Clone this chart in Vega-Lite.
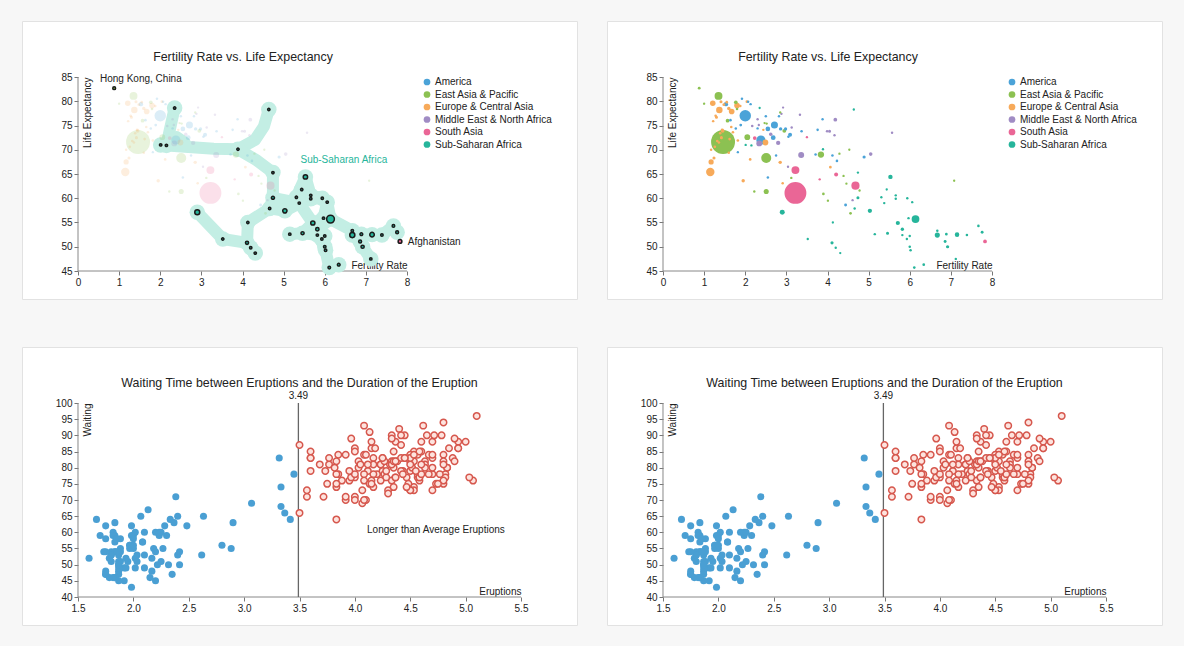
{
"$schema":"https://vega.github.io/schema/vega-lite/v6.json",
"background":"#f7f7f7",
"padding":{"left":21,"top":20,"right":22,"bottom":20},
"datasets":{
"gap":[
{"fertility":1.53,"life":79.4,"pop":31,"region":"America"},
{"fertility":1.92,"life":80.5,"pop":3,"region":"America"},
{"fertility":2.07,"life":79.9,"pop":2,"region":"America"},
{"fertility":2.13,"life":79.4,"pop":2,"region":"America"},
{"fertility":2.0,"life":77.0,"pop":282,"region":"America"},
{"fertility":1.64,"life":76.1,"pop":4,"region":"America"},
{"fertility":1.89,"life":75.1,"pop":6,"region":"America"},
{"fertility":1.77,"life":74.4,"pop":3,"region":"America"},
{"fertility":2.3,"life":74.4,"pop":2,"region":"America"},
{"fertility":2.38,"life":72.0,"pop":174,"region":"America"},
{"fertility":2.71,"life":75.1,"pop":99,"region":"America"},
{"fertility":2.55,"life":74.3,"pop":37,"region":"America"},
{"fertility":2.86,"life":74.3,"pop":15,"region":"America"},
{"fertility":2.98,"life":74.3,"pop":13,"region":"America"},
{"fertility":2.68,"life":72.5,"pop":40,"region":"America"},
{"fertility":3.09,"life":73.1,"pop":24,"region":"America"},
{"fertility":3.05,"life":72.7,"pop":3,"region":"America"},
{"fertility":1.82,"life":69.5,"pop":1,"region":"America"},
{"fertility":2.55,"life":64.3,"pop":3,"region":"America"},
{"fertility":2.75,"life":68.8,"pop":2,"region":"America"},
{"fertility":3.37,"life":73.8,"pop":3,"region":"America"},
{"fertility":3.76,"life":74.1,"pop":3,"region":"America"},
{"fertility":3.88,"life":76.3,"pop":2,"region":"America"},
{"fertility":3.71,"life":69.0,"pop":3,"region":"America"},
{"fertility":4.12,"life":68.8,"pop":3,"region":"America"},
{"fertility":4.23,"life":67.7,"pop":4,"region":"America"},
{"fertility":4.89,"life":68.5,"pop":11,"region":"America"},
{"fertility":4.44,"life":58.6,"pop":8,"region":"America"},
{"fertility":2.5,"life":76.9,"pop":3,"region":"America"},
{"fertility":2.82,"life":76.9,"pop":2,"region":"America"},
{"fertility":0.88,"life":82.7,"pop":7,"region":"East Asia & Pacific","country":"Hong Kong, China"},
{"fertility":1.35,"life":81.1,"pop":127,"region":"East Asia & Pacific"},
{"fertility":1.0,"life":79.5,"pop":1,"region":"East Asia & Pacific"},
{"fertility":1.77,"life":79.8,"pop":19,"region":"East Asia & Pacific"},
{"fertility":1.57,"life":76.0,"pop":20,"region":"East Asia & Pacific"},
{"fertility":1.46,"life":71.6,"pop":1263,"region":"East Asia & Pacific"},
{"fertility":2.05,"life":72.6,"pop":62,"region":"East Asia & Pacific"},
{"fertility":2.51,"life":68.3,"pop":211,"region":"East Asia & Pacific"},
{"fertility":2.51,"life":61.4,"pop":46,"region":"East Asia & Pacific"},
{"fertility":2.22,"life":61.4,"pop":2,"region":"East Asia & Pacific"},
{"fertility":3.12,"life":64.2,"pop":2,"region":"East Asia & Pacific"},
{"fertility":3.84,"life":69.0,"pop":77,"region":"East Asia & Pacific"},
{"fertility":3.9,"life":60.9,"pop":5,"region":"East Asia & Pacific"},
{"fertility":4.01,"life":59.5,"pop":1,"region":"East Asia & Pacific"},
{"fertility":4.29,"life":69.2,"pop":1,"region":"East Asia & Pacific"},
{"fertility":4.53,"life":70.0,"pop":1,"region":"East Asia & Pacific"},
{"fertility":4.39,"life":64.6,"pop":1,"region":"East Asia & Pacific"},
{"fertility":4.46,"life":63.0,"pop":1,"region":"East Asia & Pacific"},
{"fertility":4.78,"life":61.6,"pop":1,"region":"East Asia & Pacific"},
{"fertility":4.56,"life":56.9,"pop":5,"region":"East Asia & Pacific"},
{"fertility":7.08,"life":63.6,"pop":1,"region":"East Asia & Pacific"},
{"fertility":2.95,"life":73.9,"pop":22,"region":"East Asia & Pacific"},
{"fertility":2.47,"life":75.5,"pop":1,"region":"East Asia & Pacific"},
{"fertility":2.52,"life":75.4,"pop":1,"region":"East Asia & Pacific"},
{"fertility":2.85,"life":77.7,"pop":1,"region":"East Asia & Pacific"},
{"fertility":1.8,"life":78.4,"pop":4,"region":"East Asia & Pacific"},
{"fertility":1.21,"life":79.6,"pop":57,"region":"Europe & Central Asia"},
{"fertility":1.41,"life":79.9,"pop":10,"region":"Europe & Central Asia"},
{"fertility":1.37,"life":78.2,"pop":82,"region":"Europe & Central Asia"},
{"fertility":1.67,"life":77.9,"pop":59,"region":"Europe & Central Asia"},
{"fertility":1.8,"life":79.1,"pop":59,"region":"Europe & Central Asia"},
{"fertility":1.55,"life":79.8,"pop":5,"region":"Europe & Central Asia"},
{"fertility":2.04,"life":79.9,"pop":6,"region":"Europe & Central Asia"},
{"fertility":1.22,"life":75.9,"pop":2,"region":"Europe & Central Asia"},
{"fertility":1.44,"life":74.1,"pop":8,"region":"Europe & Central Asia"},
{"fertility":1.39,"life":73.4,"pop":4,"region":"Europe & Central Asia"},
{"fertility":1.42,"life":72.5,"pop":10,"region":"Europe & Central Asia"},
{"fertility":1.32,"life":71.8,"pop":5,"region":"Europe & Central Asia"},
{"fertility":1.36,"life":71.5,"pop":4,"region":"Europe & Central Asia"},
{"fertility":1.26,"life":70.6,"pop":5,"region":"Europe & Central Asia"},
{"fertility":1.17,"life":70.0,"pop":3,"region":"Europe & Central Asia"},
{"fertility":1.24,"life":68.3,"pop":10,"region":"Europe & Central Asia"},
{"fertility":1.17,"life":67.5,"pop":49,"region":"Europe & Central Asia"},
{"fertility":1.15,"life":65.4,"pop":146,"region":"Europe & Central Asia"},
{"fertility":1.6,"life":69.4,"pop":3,"region":"Europe & Central Asia"},
{"fertility":1.7,"life":73.6,"pop":4,"region":"Europe & Central Asia"},
{"fertility":1.62,"life":72.2,"pop":5,"region":"Europe & Central Asia"},
{"fertility":1.82,"life":71.9,"pop":4,"region":"Europe & Central Asia"},
{"fertility":2.12,"life":68.0,"pop":5,"region":"Europe & Central Asia"},
{"fertility":1.95,"life":63.6,"pop":15,"region":"Europe & Central Asia"},
{"fertility":2.49,"life":71.5,"pop":64,"region":"Europe & Central Asia"},
{"fertility":2.85,"life":67.4,"pop":15,"region":"Europe & Central Asia"},
{"fertility":2.91,"life":63.1,"pop":3,"region":"Europe & Central Asia"},
{"fertility":4.07,"life":66.4,"pop":6,"region":"Europe & Central Asia"},
{"fertility":2.44,"life":74.1,"pop":2,"region":"Europe & Central Asia"},
{"fertility":1.3,"life":76.7,"pop":10,"region":"Europe & Central Asia"},
{"fertility":1.45,"life":73.9,"pop":20,"region":"Europe & Central Asia"},
{"fertility":1.88,"life":79.0,"pop":3,"region":"Europe & Central Asia"},
{"fertility":1.6,"life":78.5,"pop":16,"region":"Europe & Central Asia"},
{"fertility":1.48,"life":79.3,"pop":8,"region":"Europe & Central Asia"},
{"fertility":1.66,"life":74.7,"pop":4,"region":"Europe & Central Asia"},
{"fertility":1.28,"life":77.0,"pop":4,"region":"Europe & Central Asia"},
{"fertility":2.92,"life":78.7,"pop":1,"region":"Middle East & North Africa"},
{"fertility":2.88,"life":77.4,"pop":2,"region":"Middle East & North Africa"},
{"fertility":3.33,"life":77.2,"pop":2,"region":"Middle East & North Africa"},
{"fertility":4.19,"life":76.2,"pop":20,"region":"Middle East & North Africa"},
{"fertility":2.3,"life":76.3,"pop":2,"region":"Middle East & North Africa"},
{"fertility":2.17,"life":74.9,"pop":4,"region":"Middle East & North Africa"},
{"fertility":2.34,"life":71.3,"pop":64,"region":"Middle East & North Africa"},
{"fertility":2.62,"life":73.2,"pop":16,"region":"Middle East & North Africa"},
{"fertility":2.8,"life":71.4,"pop":30,"region":"Middle East & North Africa"},
{"fertility":3.04,"life":66.5,"pop":1,"region":"Middle East & North Africa"},
{"fertility":3.36,"life":68.9,"pop":68,"region":"Middle East & North Africa"},
{"fertility":3.13,"life":74.6,"pop":2,"region":"Middle East & North Africa"},
{"fertility":4.05,"life":73.8,"pop":10,"region":"Middle East & North Africa"},
{"fertility":3.99,"life":73.8,"pop":3,"region":"Middle East & North Africa"},
{"fertility":4.17,"life":73.0,"pop":2,"region":"Middle East & North Africa"},
{"fertility":5.05,"life":69.1,"pop":18,"region":"Middle East & North Africa"},
{"fertility":5.57,"life":73.5,"pop":2,"region":"Middle East & North Africa"},
{"fertility":4.61,"life":59.6,"pop":1,"region":"Middle East & North Africa"},
{"fertility":2.33,"life":75.1,"pop":1,"region":"Middle East & North Africa"},
{"fertility":2.23,"life":72.4,"pop":19,"region":"South Asia"},
{"fertility":3.22,"life":65.8,"pop":129,"region":"South Asia"},
{"fertility":3.22,"life":61.1,"pop":1053,"region":"South Asia"},
{"fertility":3.5,"life":72.6,"pop":1,"region":"South Asia"},
{"fertility":3.81,"life":63.9,"pop":1,"region":"South Asia"},
{"fertility":4.21,"life":64.9,"pop":24,"region":"South Asia"},
{"fertility":4.68,"life":62.6,"pop":138,"region":"South Asia"},
{"fertility":7.83,"life":51.1,"pop":20,"region":"South Asia","country":"Afghanistan"},
{"fertility":2.35,"life":78.6,"pop":1,"region":"Sub-Saharan Africa"},
{"fertility":4.64,"life":78.3,"pop":1,"region":"Sub-Saharan Africa"},
{"fertility":2.01,"life":71.0,"pop":1,"region":"Sub-Saharan Africa"},
{"fertility":2.15,"life":70.9,"pop":1,"region":"Sub-Saharan Africa"},
{"fertility":3.89,"life":70.1,"pop":1,"region":"Sub-Saharan Africa"},
{"fertility":4.74,"life":65.3,"pop":1,"region":"Sub-Saharan Africa"},
{"fertility":5.53,"life":64.4,"pop":32,"region":"Sub-Saharan Africa"},
{"fertility":4.74,"life":60.1,"pop":10,"region":"Sub-Saharan Africa"},
{"fertility":5.31,"life":60.2,"pop":1,"region":"Sub-Saharan Africa"},
{"fertility":5.44,"life":61.8,"pop":1,"region":"Sub-Saharan Africa"},
{"fertility":5.66,"life":60.6,"pop":2,"region":"Sub-Saharan Africa"},
{"fertility":5.66,"life":59.9,"pop":2,"region":"Sub-Saharan Africa"},
{"fertility":5.38,"life":59.0,"pop":2,"region":"Sub-Saharan Africa"},
{"fertility":5.94,"life":60.0,"pop":2,"region":"Sub-Saharan Africa"},
{"fertility":6.06,"life":59.2,"pop":1,"region":"Sub-Saharan Africa"},
{"fertility":4.66,"life":57.9,"pop":2,"region":"Sub-Saharan Africa"},
{"fertility":5.03,"life":57.4,"pop":30,"region":"Sub-Saharan Africa"},
{"fertility":2.9,"life":57.1,"pop":44,"region":"Sub-Saharan Africa"},
{"fertility":6.14,"life":55.7,"pop":123,"region":"Sub-Saharan Africa"},
{"fertility":5.97,"life":55.9,"pop":2,"region":"Sub-Saharan Africa"},
{"fertility":5.71,"life":54.9,"pop":28,"region":"Sub-Saharan Africa"},
{"fertility":4.13,"life":55.0,"pop":1,"region":"Sub-Saharan Africa"},
{"fertility":5.82,"life":53.6,"pop":14,"region":"Sub-Saharan Africa"},
{"fertility":5.15,"life":52.6,"pop":2,"region":"Sub-Saharan Africa"},
{"fertility":5.46,"life":52.8,"pop":10,"region":"Sub-Saharan Africa"},
{"fertility":5.82,"life":52.4,"pop":2,"region":"Sub-Saharan Africa"},
{"fertility":6.0,"life":52.2,"pop":2,"region":"Sub-Saharan Africa"},
{"fertility":5.93,"life":51.6,"pop":2,"region":"Sub-Saharan Africa"},
{"fertility":3.52,"life":51.6,"pop":1,"region":"Sub-Saharan Africa"},
{"fertility":4.11,"life":50.8,"pop":11,"region":"Sub-Saharan Africa"},
{"fertility":4.2,"life":49.8,"pop":2,"region":"Sub-Saharan Africa"},
{"fertility":4.31,"life":48.7,"pop":1,"region":"Sub-Saharan Africa"},
{"fertility":6.0,"life":50.0,"pop":3,"region":"Sub-Saharan Africa"},
{"fertility":6.02,"life":49.3,"pop":3,"region":"Sub-Saharan Africa"},
{"fertility":6.11,"life":45.7,"pop":4,"region":"Sub-Saharan Africa"},
{"fertility":6.34,"life":46.3,"pop":5,"region":"Sub-Saharan Africa"},
{"fertility":6.67,"life":53.3,"pop":3,"region":"Sub-Saharan Africa"},
{"fertility":6.67,"life":52.4,"pop":47,"region":"Sub-Saharan Africa"},
{"fertility":6.89,"life":52.6,"pop":6,"region":"Sub-Saharan Africa"},
{"fertility":6.86,"life":51.1,"pop":8,"region":"Sub-Saharan Africa"},
{"fertility":6.92,"life":50.0,"pop":12,"region":"Sub-Saharan Africa"},
{"fertility":7.15,"life":52.5,"pop":34,"region":"Sub-Saharan Africa"},
{"fertility":7.39,"life":52.4,"pop":3,"region":"Sub-Saharan Africa"},
{"fertility":7.67,"life":54.3,"pop":4,"region":"Sub-Saharan Africa"},
{"fertility":7.76,"life":53.0,"pop":7,"region":"Sub-Saharan Africa"},
{"fertility":7.12,"life":47.5,"pop":2,"region":"Sub-Saharan Africa"}
],
"hull":[
{"path":"A","seq":1,"fertility":2.35,"life":78.6},{"path":"A","seq":2,"fertility":2.25,"life":74.8},{"path":"A","seq":3,"fertility":2.15,"life":70.9},
{"path":"A2","seq":1,"fertility":2.15,"life":70.9},{"path":"A2","seq":2,"fertility":2.4,"life":72.6},{"path":"A2","seq":3,"fertility":2.6,"life":71.4},
{"path":"B","seq":1,"fertility":2.01,"life":71.0},{"path":"B","seq":2,"fertility":2.6,"life":70.6},{"path":"B","seq":3,"fertility":3.3,"life":70.2},{"path":"B","seq":4,"fertility":3.89,"life":70.1},
{"path":"C","seq":1,"fertility":3.89,"life":70.1},{"path":"C","seq":2,"fertility":4.3,"life":72.0},{"path":"C","seq":3,"fertility":4.52,"life":74.8},{"path":"C","seq":4,"fertility":4.64,"life":78.3},
{"path":"D","seq":1,"fertility":3.89,"life":70.1},{"path":"D","seq":2,"fertility":4.35,"life":67.8},{"path":"D","seq":3,"fertility":4.74,"life":65.3},{"path":"D","seq":4,"fertility":4.74,"life":60.1},{"path":"D","seq":5,"fertility":4.66,"life":57.9},
{"path":"E","seq":1,"fertility":4.74,"life":60.1},{"path":"E","seq":2,"fertility":5.03,"life":57.4},{"path":"E","seq":3,"fertility":5.38,"life":59.0},{"path":"E","seq":4,"fertility":5.31,"life":60.2},{"path":"E","seq":5,"fertility":5.53,"life":64.4},
{"path":"F","seq":1,"fertility":5.31,"life":60.2},{"path":"F","seq":2,"fertility":5.66,"life":60.6},{"path":"F","seq":3,"fertility":5.94,"life":60.0},{"path":"F","seq":4,"fertility":6.06,"life":59.2},{"path":"F","seq":5,"fertility":6.14,"life":55.7},
{"path":"G","seq":1,"fertility":5.38,"life":59.0},{"path":"G","seq":2,"fertility":5.71,"life":54.9},{"path":"G","seq":3,"fertility":5.82,"life":53.6},{"path":"G","seq":4,"fertility":5.82,"life":52.4},{"path":"G","seq":5,"fertility":6.0,"life":50.0},{"path":"G","seq":6,"fertility":6.11,"life":45.7},{"path":"G","seq":7,"fertility":6.34,"life":46.3},
{"path":"H","seq":1,"fertility":5.82,"life":53.6},{"path":"H","seq":2,"fertility":6.14,"life":55.7},{"path":"H","seq":3,"fertility":6.67,"life":53.3},{"path":"H","seq":4,"fertility":6.89,"life":52.6},{"path":"H","seq":5,"fertility":7.15,"life":52.5},{"path":"H","seq":6,"fertility":7.39,"life":52.4},{"path":"H","seq":7,"fertility":7.67,"life":54.3},{"path":"H","seq":8,"fertility":7.76,"life":53.0},
{"path":"I","seq":1,"fertility":6.67,"life":52.4},{"path":"I","seq":2,"fertility":6.86,"life":51.1},{"path":"I","seq":3,"fertility":6.92,"life":50.0},{"path":"I","seq":4,"fertility":7.12,"life":47.5},
{"path":"J","seq":1,"fertility":5.71,"life":54.9},{"path":"J","seq":2,"fertility":5.46,"life":52.8},{"path":"J","seq":3,"fertility":5.15,"life":52.6},
{"path":"K","seq":1,"fertility":4.66,"life":57.9},{"path":"K","seq":2,"fertility":4.13,"life":55.0},{"path":"K","seq":3,"fertility":4.11,"life":50.8},{"path":"K","seq":4,"fertility":4.2,"life":49.8},{"path":"K","seq":5,"fertility":4.31,"life":48.7},
{"path":"L","seq":1,"fertility":4.11,"life":50.8},{"path":"L","seq":2,"fertility":3.52,"life":51.6},{"path":"L","seq":3,"fertility":2.9,"life":57.1},
{"path":"P","seq":1,"fertility":4.74,"life":60.1},{"path":"P","seq":2,"fertility":5.38,"life":59.0},{"path":"P","seq":3,"fertility":5.66,"life":59.9},{"path":"P","seq":4,"fertility":5.94,"life":60.0},
{"path":"R","seq":1,"fertility":5.53,"life":64.4},{"path":"R","seq":2,"fertility":5.66,"life":60.6},
{"path":"S","seq":1,"fertility":4.66,"life":57.9},{"path":"S","seq":2,"fertility":5.03,"life":57.4},
{"path":"T","seq":1,"fertility":5.46,"life":52.8},{"path":"T","seq":2,"fertility":5.82,"life":52.4},{"path":"T","seq":3,"fertility":5.93,"life":51.6},
{"path":"U","seq":1,"fertility":5.71,"life":54.9},{"path":"U","seq":2,"fertility":5.97,"life":55.9},{"path":"U","seq":3,"fertility":6.06,"life":59.2}
],
"faithful":[
{"eruptions":3.6,"waiting":79},{"eruptions":1.8,"waiting":54},{"eruptions":3.333,"waiting":74},{"eruptions":2.283,"waiting":62},{"eruptions":4.533,"waiting":85},{"eruptions":2.883,"waiting":55},{"eruptions":4.7,"waiting":88},{"eruptions":3.6,"waiting":85},{"eruptions":1.95,"waiting":51},{"eruptions":4.35,"waiting":85},
{"eruptions":1.833,"waiting":54},{"eruptions":3.917,"waiting":84},{"eruptions":4.2,"waiting":78},{"eruptions":1.75,"waiting":47},{"eruptions":4.7,"waiting":83},{"eruptions":2.167,"waiting":52},{"eruptions":1.75,"waiting":62},{"eruptions":4.8,"waiting":84},{"eruptions":1.6,"waiting":52},{"eruptions":4.25,"waiting":79},
{"eruptions":1.8,"waiting":51},{"eruptions":1.75,"waiting":47},{"eruptions":3.45,"waiting":78},{"eruptions":3.067,"waiting":69},{"eruptions":4.533,"waiting":74},{"eruptions":3.6,"waiting":83},{"eruptions":1.967,"waiting":55},{"eruptions":4.083,"waiting":76},{"eruptions":3.85,"waiting":78},{"eruptions":4.433,"waiting":79},
{"eruptions":4.3,"waiting":73},{"eruptions":4.467,"waiting":77},{"eruptions":3.367,"waiting":66},{"eruptions":4.033,"waiting":80},{"eruptions":3.833,"waiting":74},{"eruptions":2.017,"waiting":52},{"eruptions":1.867,"waiting":48},{"eruptions":4.833,"waiting":80},{"eruptions":1.833,"waiting":59},{"eruptions":4.783,"waiting":90},
{"eruptions":4.35,"waiting":80},{"eruptions":1.883,"waiting":58},{"eruptions":4.567,"waiting":84},{"eruptions":1.75,"waiting":58},{"eruptions":4.533,"waiting":73},{"eruptions":3.317,"waiting":83},{"eruptions":3.833,"waiting":64},{"eruptions":2.1,"waiting":53},{"eruptions":4.633,"waiting":82},{"eruptions":2.0,"waiting":59},
{"eruptions":4.8,"waiting":75},{"eruptions":4.716,"waiting":90},{"eruptions":1.833,"waiting":54},{"eruptions":4.833,"waiting":80},{"eruptions":1.733,"waiting":54},{"eruptions":4.883,"waiting":83},{"eruptions":3.717,"waiting":71},{"eruptions":1.667,"waiting":64},{"eruptions":4.567,"waiting":77},{"eruptions":4.317,"waiting":81},
{"eruptions":2.233,"waiting":59},{"eruptions":4.5,"waiting":84},{"eruptions":1.75,"waiting":48},{"eruptions":4.8,"waiting":82},{"eruptions":1.817,"waiting":60},{"eruptions":4.4,"waiting":92},{"eruptions":4.167,"waiting":78},{"eruptions":4.7,"waiting":78},{"eruptions":2.067,"waiting":65},{"eruptions":4.7,"waiting":73},
{"eruptions":4.033,"waiting":82},{"eruptions":1.967,"waiting":56},{"eruptions":4.5,"waiting":79},{"eruptions":4.0,"waiting":71},{"eruptions":1.983,"waiting":62},{"eruptions":5.067,"waiting":76},{"eruptions":2.017,"waiting":60},{"eruptions":4.567,"waiting":78},{"eruptions":3.883,"waiting":76},{"eruptions":3.6,"waiting":83},
{"eruptions":4.133,"waiting":75},{"eruptions":4.333,"waiting":82},{"eruptions":4.1,"waiting":70},{"eruptions":2.633,"waiting":65},{"eruptions":4.067,"waiting":73},{"eruptions":4.933,"waiting":88},{"eruptions":3.95,"waiting":76},{"eruptions":4.517,"waiting":80},{"eruptions":2.167,"waiting":48},{"eruptions":4.0,"waiting":86},
{"eruptions":2.2,"waiting":60},{"eruptions":4.333,"waiting":90},{"eruptions":1.867,"waiting":50},{"eruptions":4.817,"waiting":78},{"eruptions":1.833,"waiting":63},{"eruptions":4.3,"waiting":72},{"eruptions":4.667,"waiting":84},{"eruptions":3.75,"waiting":75},{"eruptions":1.867,"waiting":51},{"eruptions":4.9,"waiting":82},
{"eruptions":2.483,"waiting":62},{"eruptions":4.367,"waiting":88},{"eruptions":2.1,"waiting":49},{"eruptions":4.5,"waiting":83},{"eruptions":4.05,"waiting":81},{"eruptions":1.867,"waiting":47},{"eruptions":4.7,"waiting":84},{"eruptions":1.783,"waiting":52},{"eruptions":4.85,"waiting":86},{"eruptions":3.683,"waiting":81},
{"eruptions":4.733,"waiting":75},{"eruptions":2.3,"waiting":59},{"eruptions":4.9,"waiting":89},{"eruptions":4.417,"waiting":79},{"eruptions":1.7,"waiting":59},{"eruptions":4.633,"waiting":81},{"eruptions":2.317,"waiting":50},{"eruptions":4.6,"waiting":85},{"eruptions":1.817,"waiting":59},{"eruptions":4.417,"waiting":87},
{"eruptions":2.617,"waiting":53},{"eruptions":4.067,"waiting":69},{"eruptions":4.25,"waiting":77},{"eruptions":1.967,"waiting":56},{"eruptions":4.6,"waiting":88},{"eruptions":3.767,"waiting":81},{"eruptions":1.917,"waiting":45},{"eruptions":4.5,"waiting":82},{"eruptions":2.267,"waiting":55},{"eruptions":4.65,"waiting":90},
{"eruptions":1.867,"waiting":45},{"eruptions":4.167,"waiting":83},{"eruptions":2.8,"waiting":56},{"eruptions":4.333,"waiting":89},{"eruptions":1.833,"waiting":46},{"eruptions":4.383,"waiting":82},{"eruptions":1.883,"waiting":51},{"eruptions":4.933,"waiting":86},{"eruptions":2.033,"waiting":53},{"eruptions":3.733,"waiting":79},
{"eruptions":4.233,"waiting":81},{"eruptions":2.233,"waiting":60},{"eruptions":4.533,"waiting":82},{"eruptions":4.817,"waiting":77},{"eruptions":4.333,"waiting":76},{"eruptions":1.983,"waiting":59},{"eruptions":4.633,"waiting":80},{"eruptions":2.017,"waiting":49},{"eruptions":5.1,"waiting":96},{"eruptions":1.8,"waiting":53},
{"eruptions":5.033,"waiting":77},{"eruptions":4.0,"waiting":77},{"eruptions":2.4,"waiting":65},{"eruptions":4.6,"waiting":81},{"eruptions":3.567,"waiting":71},{"eruptions":4.0,"waiting":70},{"eruptions":4.5,"waiting":81},{"eruptions":4.083,"waiting":93},{"eruptions":1.8,"waiting":53},{"eruptions":3.967,"waiting":89},
{"eruptions":2.2,"waiting":45},{"eruptions":4.15,"waiting":86},{"eruptions":2.0,"waiting":58},{"eruptions":3.833,"waiting":78},{"eruptions":3.5,"waiting":66},{"eruptions":4.583,"waiting":76},{"eruptions":2.367,"waiting":63},{"eruptions":5.0,"waiting":88},{"eruptions":1.933,"waiting":52},{"eruptions":4.617,"waiting":93},
{"eruptions":1.917,"waiting":49},{"eruptions":2.083,"waiting":57},{"eruptions":4.583,"waiting":77},{"eruptions":3.333,"waiting":68},{"eruptions":4.167,"waiting":81},{"eruptions":4.333,"waiting":81},{"eruptions":4.5,"waiting":73},{"eruptions":2.417,"waiting":50},{"eruptions":4.0,"waiting":85},{"eruptions":4.167,"waiting":74},
{"eruptions":1.883,"waiting":55},{"eruptions":4.583,"waiting":77},{"eruptions":4.25,"waiting":83},{"eruptions":3.767,"waiting":83},{"eruptions":2.033,"waiting":51},{"eruptions":4.433,"waiting":78},{"eruptions":4.083,"waiting":84},{"eruptions":1.833,"waiting":46},{"eruptions":4.417,"waiting":83},{"eruptions":2.183,"waiting":55},
{"eruptions":4.8,"waiting":81},{"eruptions":1.833,"waiting":57},{"eruptions":4.8,"waiting":76},{"eruptions":4.1,"waiting":84},{"eruptions":3.966,"waiting":77},{"eruptions":4.233,"waiting":81},{"eruptions":3.5,"waiting":87},{"eruptions":4.366,"waiting":77},{"eruptions":2.25,"waiting":51},{"eruptions":4.667,"waiting":78},
{"eruptions":2.1,"waiting":60},{"eruptions":4.35,"waiting":82},{"eruptions":4.133,"waiting":91},{"eruptions":1.867,"waiting":53},{"eruptions":4.6,"waiting":78},{"eruptions":1.783,"waiting":46},{"eruptions":4.367,"waiting":77},{"eruptions":3.85,"waiting":84},{"eruptions":1.933,"waiting":49},{"eruptions":4.5,"waiting":83},
{"eruptions":2.383,"waiting":71},{"eruptions":4.7,"waiting":80},{"eruptions":1.867,"waiting":49},{"eruptions":3.833,"waiting":75},{"eruptions":3.417,"waiting":64},{"eruptions":4.233,"waiting":76},{"eruptions":2.4,"waiting":53},{"eruptions":4.8,"waiting":94},{"eruptions":2.0,"waiting":55},{"eruptions":4.15,"waiting":76},
{"eruptions":1.867,"waiting":50},{"eruptions":4.267,"waiting":82},{"eruptions":1.75,"waiting":54},{"eruptions":4.483,"waiting":75},{"eruptions":4.0,"waiting":78},{"eruptions":4.117,"waiting":79},{"eruptions":4.083,"waiting":78},{"eruptions":4.267,"waiting":78},{"eruptions":3.917,"waiting":70},{"eruptions":4.55,"waiting":79},
{"eruptions":4.083,"waiting":70},{"eruptions":2.417,"waiting":54},{"eruptions":4.183,"waiting":86},{"eruptions":2.217,"waiting":50},{"eruptions":4.45,"waiting":90},{"eruptions":1.883,"waiting":54},{"eruptions":1.85,"waiting":54},{"eruptions":4.283,"waiting":77},{"eruptions":3.95,"waiting":79},{"eruptions":2.333,"waiting":64},
{"eruptions":4.15,"waiting":75},{"eruptions":2.35,"waiting":47},{"eruptions":4.933,"waiting":86},{"eruptions":2.9,"waiting":63},{"eruptions":4.583,"waiting":85},{"eruptions":3.833,"waiting":82},{"eruptions":2.083,"waiting":57},{"eruptions":4.367,"waiting":82},{"eruptions":2.133,"waiting":67},{"eruptions":4.35,"waiting":74},
{"eruptions":2.2,"waiting":54},{"eruptions":4.45,"waiting":83},{"eruptions":3.567,"waiting":73},{"eruptions":4.5,"waiting":73},{"eruptions":4.15,"waiting":88},{"eruptions":3.817,"waiting":80},{"eruptions":3.917,"waiting":71},{"eruptions":4.45,"waiting":83},{"eruptions":2.0,"waiting":56},{"eruptions":4.283,"waiting":79},
{"eruptions":4.767,"waiting":78},{"eruptions":4.533,"waiting":84},{"eruptions":1.85,"waiting":58},{"eruptions":4.25,"waiting":83},{"eruptions":1.983,"waiting":43},{"eruptions":2.25,"waiting":60},{"eruptions":4.75,"waiting":75},{"eruptions":4.117,"waiting":81},{"eruptions":2.15,"waiting":46},{"eruptions":4.417,"waiting":90},
{"eruptions":1.817,"waiting":46},{"eruptions":4.467,"waiting":74}
]
},
"vconcat":[
{"hconcat":[
{
"width":555,"height":278,
"title":{"text":"Fertility Rate vs. Life Expectancy","dx":-56.5},
"data":{"name":"gap"},
"layer":[
{"data":{"values":[{"line":"x"}]},"mark":{"type":"rule","color":"#888888","strokeWidth":1},"encoding":{"x":{"datum":0,"type":"quantitative"},"x2":{"datum":8},"y":{"datum":45,"type":"quantitative"}}},
{"data":{"values":[{"line":"y"}]},"mark":{"type":"rule","color":"#888888","strokeWidth":1},"encoding":{"x":{"datum":0,"type":"quantitative"},"y":{"datum":45,"type":"quantitative"},"y2":{"datum":85}}},
{"data":{"name":"hull"},"mark":{"type":"line","strokeWidth":12,"strokeCap":"round","strokeJoin":"round","color":"#c3eee4","opacity":1},"encoding":{
"x":{"field":"fertility","type":"quantitative"},"y":{"field":"life","type":"quantitative"},
"detail":{"field":"path","type":"nominal"},"order":{"field":"seq","type":"quantitative"}}},
{"transform":[{"filter":"datum.region == 'Sub-Saharan Africa'"}],"mark":{"type":"circle","size":240,"color":"#c3eee4","opacity":1},"encoding":{
"x":{"field":"fertility","type":"quantitative"},"y":{"field":"life","type":"quantitative"}}},
{"transform":[{"filter":"datum.region != 'Sub-Saharan Africa' && !datum.country"}],"mark":{"type":"circle","opacity":0.2},
"encoding":{
"x":{"field":"fertility","type":"quantitative","scale":{"domain":[-1.3617,12.1337],"nice":false,"zero":false},"axis":{"domain":false,"offset":-28,"tickCount":40,"format":"d","labelFlush":false,"labelOverlap":false,"values":[0,1,2,3,4,5,6,7,8],"title":"Fertility Rate","titleX":385,"titleY":-2.5,"titleAlign":"right","titleBaseline":"alphabetic"}},
"y":{"field":"life","type":"quantitative","scale":{"domain":[39.2268,96.5464],"nice":false,"zero":false},"axis":{"domain":false,"offset":-56,"tickCount":40,"format":"d","labelOverlap":false,"values":[45,50,55,60,65,70,75,80,85],"title":"Life Expectancy","titleX":4,"titleY":56,"titleAngle":-90,"titleAlign":"right","titleBaseline":"top"}},
"color":{"field":"region","type":"nominal","scale":{"domain":["America","East Asia & Pacific","Europe & Central Asia","Middle East & North Africa","South Asia","Sub-Saharan Africa"],"range":["#4ba3d8","#8cc152","#f7aa5a","#a08cc4","#ea6696","#26b59b"]},"legend":{"title":null,"orient":"none","legendX":400,"legendY":56,"padding":0,"symbolType":"circle","symbolSize":45,"symbolOpacity":1,"symbolStrokeWidth":0,"labelFontSize":10,"labelFont":"Liberation Sans","labelColor":"#222","rowPadding":2.5,"labelOffset":3}},
"size":{"field":"pop","type":"quantitative","scale":{"type":"linear","domain":[0,1263],"range":[5,573]},"legend":null},
"order":{"field":"pop","type":"quantitative","sort":"descending"}}},
{"transform":[{"filter":"datum.region == 'Sub-Saharan Africa' || datum.country"}],"mark":{"type":"circle","opacity":1,"stroke":"#1a1a1a","strokeWidth":1.5},
"encoding":{
"x":{"field":"fertility","type":"quantitative"},"y":{"field":"life","type":"quantitative"},
"color":{"field":"region","type":"nominal"},
"size":{"field":"pop","type":"quantitative","legend":null},
"order":{"field":"pop","type":"quantitative","sort":"descending"}}},
{"data":{"values":[{"fertility":0.535,"life":84.59,"label":"Hong Kong, China"},{"fertility":8.02,"life":51.0,"label":"Afghanistan"}]},"mark":{"type":"text","align":"left","baseline":"middle","fontSize":10,"font":"Liberation Sans","color":"#222"},"encoding":{
"x":{"field":"fertility","type":"quantitative"},"y":{"field":"life","type":"quantitative"},"text":{"field":"label"}}},
{"data":{"values":[{"fertility":5.41,"life":67.9,"label":"Sub-Saharan Africa"}]},"mark":{"type":"text","align":"left","baseline":"middle","fontSize":10,"font":"Liberation Sans","color":"#26b59b"},"encoding":{
"x":{"field":"fertility","type":"quantitative"},"y":{"field":"life","type":"quantitative"},"text":{"field":"label"}}}
]
},
{
"width":555,"height":278,
"title":{"text":"Fertility Rate vs. Life Expectancy","dx":-56.5},
"data":{"name":"gap"},
"layer":[
{"data":{"values":[{"line":"x"}]},"mark":{"type":"rule","color":"#888888","strokeWidth":1},"encoding":{"x":{"datum":0,"type":"quantitative"},"x2":{"datum":8},"y":{"datum":45,"type":"quantitative"}}},
{"data":{"values":[{"line":"y"}]},"mark":{"type":"rule","color":"#888888","strokeWidth":1},"encoding":{"x":{"datum":0,"type":"quantitative"},"y":{"datum":45,"type":"quantitative"},"y2":{"datum":85}}},
{"mark":{"type":"circle","opacity":1},
"encoding":{
"x":{"field":"fertility","type":"quantitative","scale":{"domain":[-1.3617,12.1337],"nice":false,"zero":false},"axis":{"domain":false,"offset":-28,"tickCount":40,"format":"d","labelFlush":false,"labelOverlap":false,"values":[0,1,2,3,4,5,6,7,8],"title":"Fertility Rate","titleX":385,"titleY":-2.5,"titleAlign":"right","titleBaseline":"alphabetic"}},
"y":{"field":"life","type":"quantitative","scale":{"domain":[39.2268,96.5464],"nice":false,"zero":false},"axis":{"domain":false,"offset":-56,"tickCount":40,"format":"d","labelOverlap":false,"values":[45,50,55,60,65,70,75,80,85],"title":"Life Expectancy","titleX":4,"titleY":56,"titleAngle":-90,"titleAlign":"right","titleBaseline":"top"}},
"color":{"field":"region","type":"nominal","scale":{"domain":["America","East Asia & Pacific","Europe & Central Asia","Middle East & North Africa","South Asia","Sub-Saharan Africa"],"range":["#4ba3d8","#8cc152","#f7aa5a","#a08cc4","#ea6696","#26b59b"]},"legend":{"title":null,"orient":"none","legendX":400,"legendY":56,"padding":0,"symbolType":"circle","symbolSize":45,"symbolOpacity":1,"symbolStrokeWidth":0,"labelFontSize":10,"labelFont":"Liberation Sans","labelColor":"#222","rowPadding":2.5,"labelOffset":3}},
"size":{"field":"pop","type":"quantitative","scale":{"type":"linear","domain":[0,1263],"range":[5,573]},"legend":null},
"order":{"field":"pop","type":"quantitative","sort":"descending"}}}
]
}
],"spacing":28,"resolve":{"scale":{"color":"independent","size":"independent"}}},
{"hconcat":[
{
"width":555,"height":278,
"title":{"text":"Waiting Time between Eruptions and the Duration of the Eruption"},
"data":{"name":"faithful"},
"layer":[
{"data":{"values":[{"line":"x"}]},"mark":{"type":"rule","color":"#888888","strokeWidth":1},"encoding":{"x":{"datum":1.5,"type":"quantitative"},"x2":{"datum":5.5},"y":{"datum":40,"type":"quantitative"}}},
{"data":{"values":[{"line":"y"}]},"mark":{"type":"rule","color":"#888888","strokeWidth":1},"encoding":{"x":{"datum":1.5,"type":"quantitative"},"y":{"datum":40,"type":"quantitative"},"y2":{"datum":100}}},
{"data":{"values":[{"line":"mean"}]},"mark":{"type":"rule","color":"#666666","strokeWidth":1.3},"encoding":{"x":{"datum":3.49,"type":"quantitative"},"y":{"datum":40,"type":"quantitative"},"y2":{"datum":100}}},
{"transform":[{"filter":"datum.eruptions < 3.49"}],"mark":{"type":"circle","size":50,"color":"#4a9fd3","opacity":1},"encoding":{
"x":{"field":"eruptions","type":"quantitative","scale":{"domain":[0.99436,6.00564],"nice":false,"zero":false},"axis":{"domain":false,"offset":-28,"tickCount":40,"labelFlush":false,"labelOverlap":false,"values":[1.5,2,2.5,3,3.5,4,4.5,5,5.5],"format":".1f","title":"Eruptions","titleX":499,"titleY":-3,"titleAlign":"right","titleBaseline":"alphabetic"}},
"y":{"field":"waiting","type":"quantitative","scale":{"domain":[31.3402,117.3196],"nice":false,"zero":false},"axis":{"domain":false,"offset":-56,"tickCount":40,"format":"d","labelOverlap":false,"values":[40,45,50,55,60,65,70,75,80,85,90,95,100],"title":"Waiting","titleX":4,"titleY":56,"titleAngle":-90,"titleAlign":"right","titleBaseline":"top"}}}},
{"transform":[{"filter":"datum.eruptions >= 3.49"}],"mark":{"type":"circle","size":42,"fill":"#fde3de","stroke":"#d6574d","strokeWidth":1.5,"opacity":1},"encoding":{
"x":{"field":"eruptions","type":"quantitative"},"y":{"field":"waiting","type":"quantitative"}}},
{"data":{"values":[{"eruptions":3.49,"waiting":100,"label":"3.49"}]},"mark":{"type":"text","dy":-7,"align":"center","baseline":"middle","fontSize":10,"font":"Liberation Sans","color":"#222"},"encoding":{
"x":{"field":"eruptions","type":"quantitative"},"y":{"field":"waiting","type":"quantitative"},"text":{"field":"label"}}},
{"data":{"values":[{"eruptions":4.11,"waiting":60.7,"label":"Longer than Average Eruptions"}]},"mark":{"type":"text","align":"left","baseline":"middle","fontSize":10,"font":"Liberation Sans","color":"#222"},"encoding":{
"x":{"field":"eruptions","type":"quantitative"},"y":{"field":"waiting","type":"quantitative"},"text":{"field":"label"}}}
]
},
{
"width":555,"height":278,
"title":{"text":"Waiting Time between Eruptions and the Duration of the Eruption"},
"data":{"name":"faithful"},
"layer":[
{"data":{"values":[{"line":"x"}]},"mark":{"type":"rule","color":"#888888","strokeWidth":1},"encoding":{"x":{"datum":1.5,"type":"quantitative"},"x2":{"datum":5.5},"y":{"datum":40,"type":"quantitative"}}},
{"data":{"values":[{"line":"y"}]},"mark":{"type":"rule","color":"#888888","strokeWidth":1},"encoding":{"x":{"datum":1.5,"type":"quantitative"},"y":{"datum":40,"type":"quantitative"},"y2":{"datum":100}}},
{"data":{"values":[{"line":"mean"}]},"mark":{"type":"rule","color":"#666666","strokeWidth":1.3},"encoding":{"x":{"datum":3.49,"type":"quantitative"},"y":{"datum":40,"type":"quantitative"},"y2":{"datum":100}}},
{"transform":[{"filter":"datum.eruptions < 3.49"}],"mark":{"type":"circle","size":50,"color":"#4a9fd3","opacity":1},"encoding":{
"x":{"field":"eruptions","type":"quantitative","scale":{"domain":[0.99436,6.00564],"nice":false,"zero":false},"axis":{"domain":false,"offset":-28,"tickCount":40,"labelFlush":false,"labelOverlap":false,"values":[1.5,2,2.5,3,3.5,4,4.5,5,5.5],"format":".1f","title":"Eruptions","titleX":499,"titleY":-3,"titleAlign":"right","titleBaseline":"alphabetic"}},
"y":{"field":"waiting","type":"quantitative","scale":{"domain":[31.3402,117.3196],"nice":false,"zero":false},"axis":{"domain":false,"offset":-56,"tickCount":40,"format":"d","labelOverlap":false,"values":[40,45,50,55,60,65,70,75,80,85,90,95,100],"title":"Waiting","titleX":4,"titleY":56,"titleAngle":-90,"titleAlign":"right","titleBaseline":"top"}}}},
{"transform":[{"filter":"datum.eruptions >= 3.49"}],"mark":{"type":"circle","size":42,"fill":"#fde3de","stroke":"#d6574d","strokeWidth":1.5,"opacity":1},"encoding":{
"x":{"field":"eruptions","type":"quantitative"},"y":{"field":"waiting","type":"quantitative"}}},
{"data":{"values":[{"eruptions":3.49,"waiting":100,"label":"3.49"}]},"mark":{"type":"text","dy":-7,"align":"center","baseline":"middle","fontSize":10,"font":"Liberation Sans","color":"#222"},"encoding":{
"x":{"field":"eruptions","type":"quantitative"},"y":{"field":"waiting","type":"quantitative"},"text":{"field":"label"}}}
]
}
],"spacing":28}
],
"spacing":46,
"resolve":{"scale":{"color":"independent","size":"independent"}},
"config":{
"view":{"fill":"#ffffff","stroke":"#e2e2e2","strokeWidth":1},
"font":"Liberation Sans",
"axis":{"grid":false,"ticks":true,"tickSize":4,"tickColor":"#777777","labelColor":"#222222","labelFont":"Liberation Sans","labelFontSize":10,"titleFont":"Liberation Sans","titleFontSize":10,"titleFontWeight":"normal","titleColor":"#222222","labelPadding":2},
"title":{"font":"Liberation Sans","fontSize":12.4,"fontWeight":"normal","color":"#222222","anchor":"middle","offset":-42,"baseline":"alphabetic"}
}
}
